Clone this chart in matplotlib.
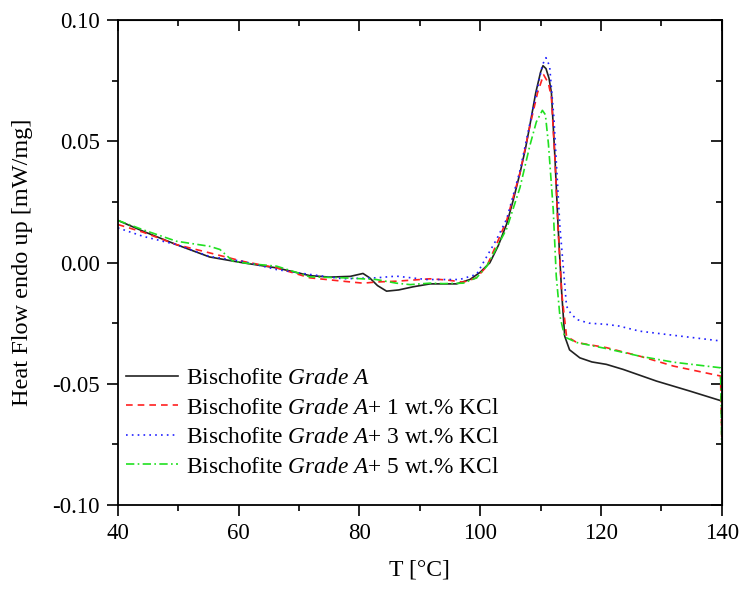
import matplotlib
matplotlib.use("Agg")
import matplotlib.pyplot as plt
from matplotlib.ticker import MultipleLocator, FormatStrFormatter

plt.rcParams['font.family'] = ['Liberation Serif', 'DejaVu Serif']
plt.rcParams['mathtext.fontset'] = 'custom'
plt.rcParams['mathtext.rm'] = 'Liberation Serif'
plt.rcParams['mathtext.it'] = 'Liberation Serif:italic'
plt.rcParams['axes.unicode_minus'] = False

# ---- data ----
x_black = [40, 44.2, 49.7, 55.2, 60.7, 66.3, 71.8, 75.1, 78.5, 80.6, 81.7, 83, 84.5, 86.5, 88.9,
           91.7, 96.1, 98.3, 100, 101.6, 103, 104.4, 105.5, 106.6, 107.5, 108.2, 109.2, 110, 110.4,
           110.9, 111.4, 111.8, 112.4, 112.9, 113.5, 114.0, 114.8, 116.5, 118.5, 120.9, 123.7,
           129.2, 134.7, 140]
y_black = [0.0174, 0.0129, 0.0074, 0.0023, -0.0001, -0.0022, -0.0054, -0.0060, -0.0057, -0.0045,
           -0.0063, -0.0095, -0.0118, -0.0113, -0.0100, -0.0088, -0.0088, -0.0070, -0.0040, -0.0001,
           0.007, 0.016, 0.026, 0.037, 0.047, 0.0562, 0.070, 0.0785, 0.0812, 0.080, 0.076, 0.070,
           0.0424, 0.015, -0.0125, -0.0304, -0.036, -0.0393, -0.041, -0.042, -0.0441, -0.0489,
           -0.053, -0.0571]

x_red = [40, 44.2, 49.7, 55.2, 60.7, 66.3, 71.8, 77.3, 80.6, 83, 86.1, 89, 91.7, 94.5, 97.2, 99.4,
         101.1, 102.7, 104.4, 106.6, 108.2, 109.5, 110.5, 111.3, 111.8, 112.4, 112.9, 113.5, 114.3,
         116, 120.9, 126.4, 132, 139.8, 140]
y_red = [0.0157, 0.0125, 0.0074, 0.004, 0.0005, -0.0022, -0.0063, -0.0077, -0.0085, -0.008,
         -0.0077, -0.0072, -0.0067, -0.0072, -0.0081, -0.0063, -0.0015, 0.0075, 0.0175, 0.037,
         0.056, 0.070, 0.0775, 0.074, 0.068, 0.042, 0.014, -0.0125, -0.0304, -0.033, -0.0351,
         -0.0386, -0.0427, -0.0468, -0.072]

x_blue = [40, 44.2, 49.7, 55.2, 60.7, 66.3, 71.8, 77.3, 82.8, 86.1, 91.1, 96.6, 99.4, 100.5,
          102.7, 104.4, 106.6, 108.2, 109.5, 110.3, 110.9, 111.5, 112.2, 113.2, 114.3, 115, 116,
          118, 120.9, 123, 126.4, 132, 140]
y_blue = [0.0143, 0.0108, 0.0074, 0.0025, 0.0005, -0.0029, -0.0049, -0.0067, -0.0063, -0.0056,
          -0.007, -0.007, -0.0049, -0.0001, 0.0095, 0.018, 0.038, 0.057, 0.072, 0.0815, 0.0845,
          0.081, 0.06, 0.015, -0.018, -0.021, -0.0235, -0.0250, -0.0255, -0.0262, -0.0283,
          -0.030, -0.0324]

x_green = [40, 44.2, 49.7, 55.2, 56.9, 59.1, 62, 66.3, 69, 71.8, 77.3, 82.8, 86.1, 88.4, 91.7,
           93.9, 97.2, 99.4, 101.1, 102.7, 104.4, 106.6, 108.2, 109.3, 110.3, 110.8, 111.3, 112.1,
           112.6, 113.2, 114, 116, 120.9, 126.4, 132, 139.8, 140]
y_green = [0.0174, 0.0135, 0.0088, 0.0067, 0.0054, 0.0005, -0.0005, -0.0015, -0.0036, -0.0059,
           -0.0063, -0.007, -0.0085, -0.0091, -0.0085, -0.0087, -0.0085, -0.0063, -0.0015, 0.006,
           0.014, 0.031, 0.048, 0.058, 0.0628, 0.061, 0.049, 0.0218, -0.0056, -0.022, -0.0307,
           -0.033, -0.0355, -0.0386, -0.0411, -0.0434, -0.075]

labels = [r"Bischofite $\mathit{Grade\ A}$",
          r"Bischofite $\mathit{Grade\ A}$+ 1 wt.% KCl",
          r"Bischofite $\mathit{Grade\ A}$+ 3 wt.% KCl",
          r"Bischofite $\mathit{Grade\ A}$+ 5 wt.% KCl"]

fig = plt.figure(figsize=(7.41, 5.92), dpi=100)
ax = fig.add_axes([0.159, 0.147, 0.815, 0.819])

ax.plot(x_black, y_black, color='#222222', lw=1.2, ls='-', label=labels[0])
ax.plot(x_red, y_red, color='#ff2020', lw=1.2, ls=(0, (4, 3)), label=labels[1])
ax.plot(x_blue, y_blue, color='#2020ff', lw=1.2, ls=(0, (1, 2.5)), label=labels[2])
ax.plot(x_green, y_green, color='#20e020', lw=1.2, ls=(0, (5, 2, 1, 2)), label=labels[3])

ax.set_xlim(40, 140)
ax.set_ylim(-0.10, 0.10)
ax.xaxis.set_major_locator(MultipleLocator(20))
ax.xaxis.set_minor_locator(MultipleLocator(10))
ax.yaxis.set_major_locator(MultipleLocator(0.05))
ax.yaxis.set_minor_locator(MultipleLocator(0.025))
ax.yaxis.set_major_formatter(FormatStrFormatter('%.2f'))

for s in ax.spines.values():
    s.set_linewidth(1.3)

ax.tick_params(which='both', direction='out', top=False, right=False, width=1.2,
               labelsize=16.5, pad=5)
ax.tick_params(which='major', length=8)
ax.tick_params(which='minor', length=4)

secx = ax.secondary_xaxis('top')
secx.xaxis.set_major_locator(MultipleLocator(20))
secx.xaxis.set_minor_locator(MultipleLocator(10))
secx.tick_params(which='both', direction='in', labeltop=False, width=1.2)
secx.tick_params(which='major', length=8)
secx.tick_params(which='minor', length=4)

secy = ax.secondary_yaxis('right')
secy.yaxis.set_major_locator(MultipleLocator(0.05))
secy.yaxis.set_minor_locator(MultipleLocator(0.025))
secy.tick_params(which='both', direction='in', labelright=False, width=1.2)
secy.tick_params(which='major', length=8)
secy.tick_params(which='minor', length=4)

ax.set_xlabel("T [°C]", fontsize=17)
ax.set_ylabel("Heat Flow endo up [mW/mg]", fontsize=17.5)
ax.xaxis.set_label_coords(0.5, -0.113)
ax.yaxis.set_label_coords(-0.141, 0.5)

ax.legend(loc='upper left', bbox_to_anchor=(0.014, 0.283), frameon=False, fontsize=16.8,
          handlelength=2.2, labelspacing=0.35, handletextpad=0.35, borderpad=0,
          borderaxespad=0)

fig.savefig("out.png", dpi=100)
